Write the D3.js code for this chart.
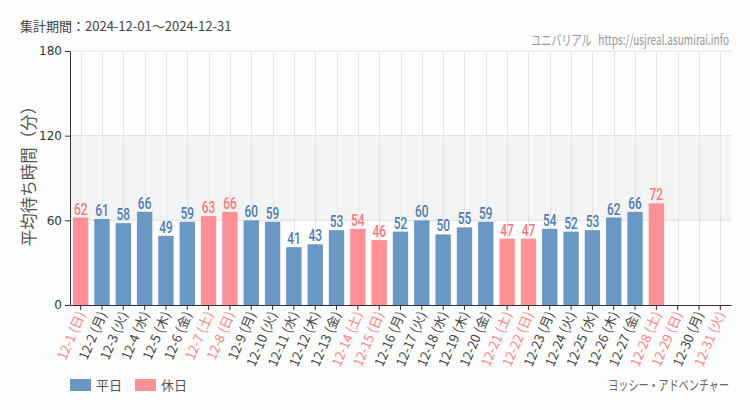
<!DOCTYPE html>
<html><head><meta charset="utf-8">
<script src="https://cdn.jsdelivr.net/npm/d3@7"></script>
<style>
body{margin:0;background:#fcfdfc;}
svg{display:block;}
</style></head><body>
<svg id="c" width="750" height="410"></svg>
<script>
const days = ["12-1","12-2","12-3","12-4","12-5","12-6","12-7","12-8","12-9","12-10","12-11","12-12","12-13","12-14","12-15","12-16","12-17","12-18","12-19","12-20","12-21","12-22","12-23","12-24","12-25","12-26","12-27","12-28","12-29","12-30","12-31"];
const weekdays = ["日","月","火","水","木","金","土","日","月","火","水","木","金","土","日","月","火","水","木","金","土","日","月","火","水","木","金","土","日","月","火"];
const holiday = [1,0,0,0,0,0,1,1,0,0,0,0,0,1,1,0,0,0,0,0,1,1,0,0,0,0,0,1,1,0,1];
const values = [62,61,58,66,49,59,63,66,60,59,41,43,53,54,46,52,60,50,55,59,47,47,54,52,53,62,66,72,null,null,null];
const yTicks = [0,60,120,180];

const svg = d3.select("#c");
const L=70, R=731, T=51, B=305;
const x = d3.scaleBand().domain(days).range([L,R]).paddingInner(0.28).paddingOuter(0.14);
const y = d3.scaleLinear().domain([0,180]).range([B,T]);
const blue="#6a98c5", pink="#ff9095", blueT="#4a7db5", pinkT="#ff767c";
const jp = "'Noto Sans CJK JP',sans-serif";

svg.append("rect").attr("x",L).attr("y",y(120)).attr("width",R-L).attr("height",y(60)-y(120)).attr("fill","#f3f4f3");
svg.selectAll(".hg").data(yTicks.filter(d=>d>0)).enter().append("line")
  .attr("x1",L).attr("x2",R).attr("y1",d=>y(d)).attr("y2",d=>y(d)).attr("stroke","#e2e2e2").attr("stroke-width",1);
svg.selectAll(".vg").data(days).enter().append("line")
  .attr("x1",d=>Math.round(x(d)+x.bandwidth()/2)+0.5).attr("x2",d=>Math.round(x(d)+x.bandwidth()/2)+0.5)
  .attr("y1",T).attr("y2",B).attr("stroke","#e4e4e4");

const data = days.map((d,i)=>({d,v:values[i],h:holiday[i],w:weekdays[i]}));
svg.selectAll(".bar").data(data.filter(e=>e.v!=null)).enter().append("rect")
  .attr("x",e=>x(e.d)).attr("width",x.bandwidth())
  .attr("y",e=>y(e.v)).attr("height",e=>B-y(e.v))
  .attr("fill",e=>e.h?pink:blue);
svg.selectAll(".vl").data(data.filter(e=>e.v!=null)).enter().append("text")
  .attr("transform",e=>`translate(${x(e.d)+x.bandwidth()/2},${y(e.v)-3}) scale(0.7,1)`)
  .attr("text-anchor","middle").attr("font-family","Roboto,sans-serif").attr("font-size",17).attr("font-weight",500)
  .attr("fill",e=>e.h?pinkT:blueT).text(e=>e.v);

const ya = svg.append("g").attr("transform",`translate(${L},0)`)
  .call(d3.axisLeft(y).tickValues(yTicks).tickSize(5).tickSizeOuter(0));
ya.select(".domain").attr("stroke","#333");
ya.selectAll(".tick line").attr("stroke","#333");
ya.selectAll("text").attr("font-family","'DejaVu Sans',sans-serif").attr("font-size",12).attr("fill","#333");

const xa = svg.append("g").attr("transform",`translate(0,${B})`)
  .call(d3.axisBottom(x).tickSize(5).tickSizeOuter(0).tickFormat(""));
xa.select(".domain").attr("stroke","#333");
xa.selectAll(".tick line").attr("stroke","#333");
svg.selectAll(".xl").data(data).enter().append("text")
  .attr("transform",e=>`translate(${x(e.d)+x.bandwidth()/2+5},${B+9}) rotate(-67)`)
  .attr("text-anchor","end").attr("font-family",jp).attr("font-size",13)
  .attr("fill",e=>e.h?"#ff7f84":"#444").text(e=>e.d+" ("+e.w+")");

svg.append("text").attr("x",20).attr("y",31).attr("font-family",jp).attr("font-size",13).attr("fill","#444").text("集計期間：2024-12-01～2024-12-31");
svg.append("text").attr("transform","translate(729,45) scale(0.72,1)").attr("text-anchor","end").attr("font-family",jp).attr("font-size",14).attr("fill","#999").attr("xml:space","preserve").text("ユニバリアル   https://usjreal.asumirai.info");
svg.append("text").attr("transform",`translate(35,172) rotate(-90)`).attr("text-anchor","middle")
  .attr("font-family",jp).attr("font-size",16.5).attr("fill","#555").text("平均待ち時間（分）");

const leg = [["平日",blue,70],["休日",pink,135]];
leg.forEach(([t,c,lx])=>{
  svg.append("rect").attr("x",lx).attr("y",379).attr("width",21).attr("height",12).attr("fill",c);
  svg.append("text").attr("x",lx+26).attr("y",390).attr("font-family",jp).attr("font-size",13).attr("fill","#555").text(t);
});
svg.append("text").attr("transform","translate(729,390) scale(0.72,1)").attr("text-anchor","end").attr("font-family",jp).attr("font-size",14).attr("fill","#666").text("ヨッシー・アドベンチャー");
</script></body></html>
